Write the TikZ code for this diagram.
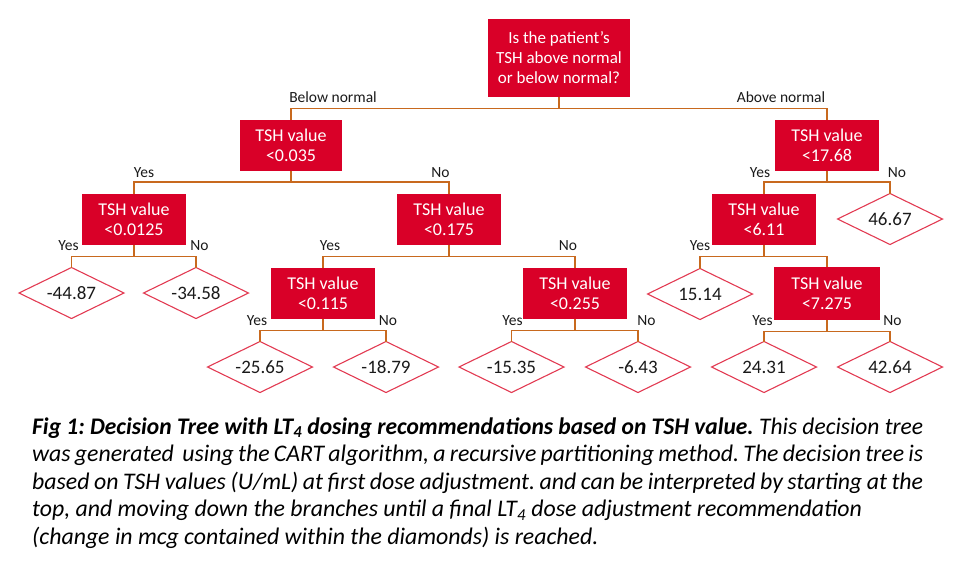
\documentclass[tikz,border=0pt]{standalone}
\usepackage{graphicx}
\usepackage{fontspec}
\setmainfont{Carlito}
\usetikzlibrary{shapes.geometric}
\definecolor{boxred}{HTML}{D90028}
\definecolor{conncol}{HTML}{C8691E}
\definecolor{diared}{HTML}{E23A52}
\definecolor{txt}{HTML}{1A1A1A}
\tikzset{
  decbox/.style={rectangle, fill=boxred, text=white, align=center, inner sep=0pt, outer sep=0pt,
    font=\fontsize{18}{20}\selectfont},
  leaf/.style={diamond, draw=diared, line width=1.1pt, aspect=2, inner sep=0pt, outer sep=0pt,
    minimum width=105pt, minimum height=51pt, text=txt, font=\fontsize{19}{22}\selectfont},
  conn/.style={draw=conncol, line width=1.2pt},
  lbl/.style={anchor=base, inner sep=0pt, text=txt, font=\fontsize{15.5}{18}\selectfont},
  capline/.style={anchor=base west, inner sep=0pt, text=black, font=\fontsize{23.8}{27}\selectfont\itshape\frenchspacing}
}
\newcommand{\fullline}[1]{\hbox to 891pt{#1}}
\begin{document}
\begin{tikzpicture}[x=1pt,y=-1pt]
\useasboundingbox (0,0) rectangle (960,576);
% decision boxes
\node[decbox, minimum width=142pt, minimum height=78pt, font=\fontsize{17}{20}\selectfont] (root) at (559,58) {Is the patient’s\\TSH above normal\\or below normal?};
\node[decbox, minimum width=102pt, minimum height=51pt] (b035) at (291,145) {TSH value\\<0.035};
\node[decbox, minimum width=104pt, minimum height=51pt] (b0125) at (134,219.5) {TSH value\\<0.0125};
\node[decbox, minimum width=104pt, minimum height=51pt] (b175) at (449,219.5) {TSH value\\<0.175};
\node[decbox, minimum width=104pt, minimum height=51pt] (b115) at (323,293.5) {TSH value\\<0.115};
\node[decbox, minimum width=104pt, minimum height=51pt] (b255) at (575,293.5) {TSH value\\<0.255};
\node[decbox, minimum width=104pt, minimum height=51pt] (b1768) at (827,145) {TSH value\\<17.68};
\node[decbox, minimum width=104pt, minimum height=51pt] (b611) at (764,219.5) {TSH value\\<6.11};
\node[decbox, minimum width=106pt, minimum height=53pt] (b7275) at (827,293.5) {TSH value\\<7.275};
% leaves
\node[leaf] (d4487) at (71.5,293) {-44.87};
\node[leaf] (d3458) at (196,293) {-34.58};
\node[leaf] (d4667) at (890,219) {46.67};
\node[leaf] (d1514) at (700,294) {15.14};
\node[leaf] (d2565) at (260,367) {-25.65};
\node[leaf] (d1879) at (386,367) {-18.79};
\node[leaf] (d1535) at (511.5,367) {-15.35};
\node[leaf] (d643) at (638,367) {-6.43};
\node[leaf] (d2431) at (764,367) {24.31};
\node[leaf] (d4264) at (890,367) {42.64};
% connectors
\foreach \p/\c in {root/b035, root/b1768, b035/b0125, b035/b175, b0125/d4487, b0125/d3458,
  b175/b115, b175/b255, b115/d2565, b115/d1879, b255/d1535, b255/d643,
  b1768/b611, b1768/d4667, b611/d1514, b611/b7275, b7275/d2431, b7275/d4264}
  \draw[conn] (\p.south) -- ++(0,11.5) -| (\c.north);
% branch labels
\node[lbl] (l1) at (333,102) {Below normal};
\node[lbl] (l2) at (781,102) {Above normal};
\node[lbl] (l3) at (144,177) {Yes};
\node[lbl] (l4) at (440.5,177) {No};
\node[lbl] (l5) at (760,177) {Yes};
\node[lbl] (l6) at (897,177) {No};
\node[lbl] (l7) at (68.5,250) {Yes};
\node[lbl] (l8) at (199.5,250) {No};
\node[lbl] (l9) at (330,250) {Yes};
\node[lbl] (l10) at (568,250.5) {No};
\node[lbl] (l11) at (700,250.5) {Yes};
\node[lbl] (l12) at (257,325) {Yes};
\node[lbl] (l13) at (388,325) {No};
\node[lbl] (l14) at (512.5,325) {Yes};
\node[lbl] (l15) at (646.5,325) {No};
\node[lbl] (l16) at (762.5,325) {Yes};
\node[lbl] (l17) at (892.5,325) {No};
% caption
\node[capline] (c1) at (32,434) {\resizebox{891pt}{\height}{\textbf{Fig 1: Decision Tree with LT\textsubscript{4} dosing recommendations based on TSH value.} This decision tree}};
\node[capline] (c2) at (32,461.5) {\fullline{was generated\ \ using the CART algorithm, a recursive partitioning method. The decision tree is}};
\node[capline] (c3) at (32,489) {\fullline{based on TSH values (U/mL) at first dose adjustment. and can be interpreted by starting at the}};
\node[capline] (c4) at (32,516.5) {top, and moving down the branches until a final LT\textsubscript{4} dose adjustment recommendation};
\node[capline] (c5) at (32,544) {(change in mcg contained within the diamonds) is reached.};
\end{tikzpicture}
\end{document}
